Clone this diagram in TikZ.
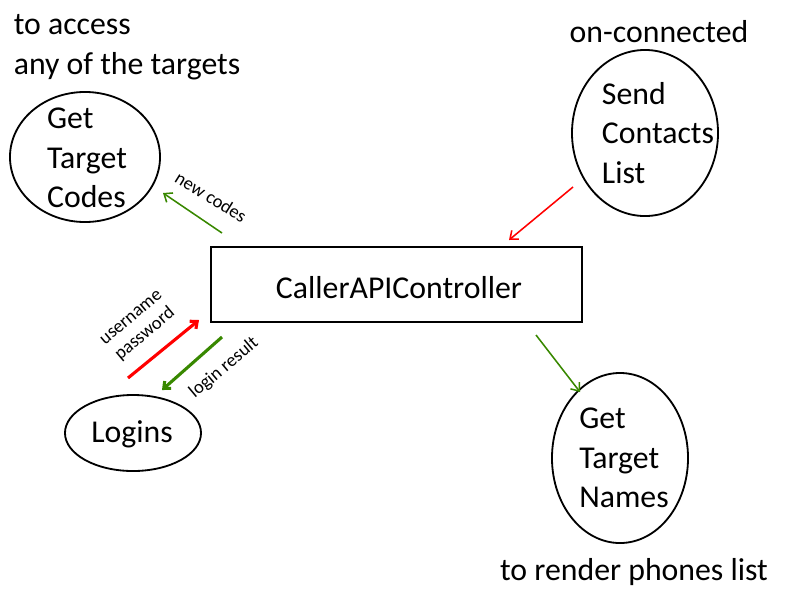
\documentclass[tikz,border=0pt]{standalone}
\usepackage{fontspec}
\setmainfont{Carlito}
\definecolor{okgreen}{RGB}{56,136,0}
\definecolor{okred}{RGB}{255,0,0}
\usetikzlibrary{shapes.geometric,arrows.meta}
\tikzset{
	ell/.style={draw, ellipse, line width=1.3pt, inner sep=0pt},
	txt/.style={font=\fontsize{22.6}{28.2}\selectfont, align=left, inner sep=0pt},
	small/.style={font=\fontsize{13.2}{15.5}\selectfont, align=center, inner sep=0pt},
	flow/.style={-{Straight Barb[length=5pt,width=8pt]}, line width=1.1pt},
	bigflow/.style={-{Straight Barb[length=4pt,width=7pt]}, line width=2.2pt}
}
\begin{document}
\begin{tikzpicture}[x=0.025cm, y=-0.025cm]
			\useasboundingbox (0,0) rectangle (800,600);

			% boxes and circles
			\node[draw, line width=1.3pt, minimum width=9.275cm, minimum height=1.875cm] (ctrl) at (396.5,284.5) {};
			\node[txt] (ctrltext) at (399,288) {CallerAPIController};

			\node[ell, minimum width=3.75cm,  minimum height=3.25cm] (codes)    at (85,157)  {};
			\node[ell, minimum width=3.65cm,  minimum height=4.15cm] (contacts) at (645,133) {};
			\node[ell, minimum width=3.4cm,   minimum height=1.9cm]  (logins)   at (133,433) {};
			\node[ell, minimum width=3.4cm,   minimum height=4.25cm] (names)    at (620,458) {};

			\node[txt] (codestext)    at (87,158)  {Get\\Target\\Codes};
			\node[txt] (contactstext) at (658,133) {Send\\Contacts\\List};
			\node[txt] (loginstext)   at (132,434) {Logins};
			\node[txt] (namestext)    at (624,458) {Get\\Target\\Names};

			\node[txt] (accessnote)  at (127,47)  {to access\\any of the targets};
			\node[txt] (connnote)    at (659,32)  {on-connected};
			\node[txt] (rendernote)  at (634,572) {to render phones list};

			% arrow ends
			\coordinate (a1) at (222,233); \coordinate (b1) at (163,193);
			\coordinate (a2) at (573,187); \coordinate (b2) at (509,240);
			\coordinate (a3) at (536,335); \coordinate (b3) at (580,392);
			\coordinate (a4) at (128,378); \coordinate (b4) at (199,320);
			\coordinate (a5) at (222,337); \coordinate (b5) at (162,390);

			\draw[flow, okgreen] (a1) -- (b1);
			\draw[flow, okred]   (a2) -- (b2);
			\draw[flow, okgreen] (a3) -- (b3);
			\draw[bigflow, okred]   (a4) -- (b4);
			\draw[bigflow, okgreen] (a5) -- (b5);

			\node[small, rotate=-32] (codeslbl) at (211,197) {new codes};
			\node[small, rotate=40]  (userlbl)  at (139,327) {username\\password};
			\node[small, rotate=40]  (loginlbl) at (224,368) {login result};
		\end{tikzpicture}
\end{document}
